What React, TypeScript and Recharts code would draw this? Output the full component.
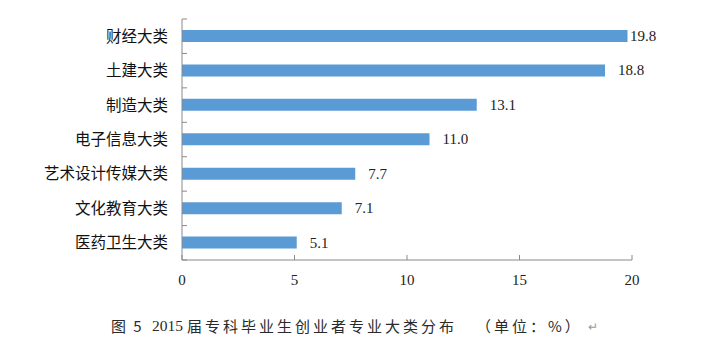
import React from "react";
import { BarChart, Bar, XAxis, YAxis, LabelList } from "recharts";

const categories = ["财经大类", "土建大类", "制造大类", "电子信息大类", "艺术设计传媒大类", "文化教育大类", "医药卫生大类"];
const values = [19.8, 18.8, 13.1, 11.0, 7.7, 7.1, 5.1];
const xTicks = [0, 5, 10, 15, 20];
const captionParts = ["图 5", "2015", "届专科毕业生创业者专业大类分布", "（单位：%）", "↵"];

const data = categories.map((c, i) => ({ name: c, value: values[i] }));

const AXIS_COLOR = "#8a8a8a";
const BAND = 241 / 7;

const XTick = (props: any) => {
  const { x, y, payload } = props;
  const axisY = y - 14;
  return (
    <g>
      <line x1={x} x2={x} y1={axisY - 5} y2={axisY} stroke={AXIS_COLOR} strokeWidth={1} />
      <text x={x} y={axisY + 25} textAnchor="middle" fontFamily="'Liberation Serif', serif" fontSize={15} fill="#222">
        {payload.value}
      </text>
    </g>
  );
};

const YTick = (props: any) => {
  const { x, y, payload, index } = props;
  const axisX = x + 14;
  return (
    <g>
      <line x1={axisX} x2={axisX + 5} y1={y - BAND / 2} y2={y - BAND / 2} stroke={AXIS_COLOR} strokeWidth={1} />
      {index === categories.length - 1 ? (
        <line x1={axisX} x2={axisX + 5} y1={y + BAND / 2} y2={y + BAND / 2} stroke={AXIS_COLOR} strokeWidth={1} />
      ) : null}
      <text x={x} y={y + 5.5} textAnchor="end" fontFamily="'Noto Sans CJK SC', sans-serif" fontSize={15.5} fill="#111">
        {payload.value}
      </text>
    </g>
  );
};

const ValueLabel = (props: any) => {
  const { x, y, width, height, value } = props;
  const lx = Math.min(x + width + 13, 630);
  return (
    <text x={lx} y={y + height / 2 + 5} textAnchor="start" fontFamily="'Liberation Serif', serif" fontSize={15} fill="#222">
      {Number(value).toFixed(1)}
    </text>
  );
};

const capStyle: React.CSSProperties = {
  position: "absolute",
  top: 316,
  fontSize: 15,
  color: "#2a2a2a",
  whiteSpace: "nowrap",
  lineHeight: "20px",
  fontFamily: "'Noto Sans CJK SC', sans-serif",
};

export default function App() {
  return (
    <div style={{ position: "absolute", left: 0, top: 0, width: 702, height: 362, background: "#fff", overflow: "hidden" }}>
      <BarChart
        width={702}
        height={362}
        data={data}
        layout="vertical"
        margin={{ top: 19, right: 70, bottom: 72, left: 82 }}
      >
        <XAxis
          type="number"
          domain={[0, 20]}
          ticks={xTicks}
          tickSize={0}
          tickMargin={14}
          height={30}
          axisLine={{ stroke: AXIS_COLOR }}
          tickLine={false}
          tick={<XTick />}
          interval={0}
        />
        <YAxis
          type="category"
          dataKey="name"
          width={100}
          tickSize={0}
          tickMargin={14}
          axisLine={{ stroke: AXIS_COLOR }}
          tickLine={false}
          tick={<YTick />}
          interval={0}
        />
        <Bar dataKey="value" fill="#5B9BD5" barSize={12} isAnimationActive={false}>
          <LabelList dataKey="value" content={<ValueLabel />} />
        </Bar>
      </BarChart>
      <span style={{ ...capStyle, left: 111, letterSpacing: 2 }}>{captionParts[0]}</span>
      <span style={{ ...capStyle, left: 152, fontFamily: "'Liberation Serif', serif", fontSize: 15.5 }}>{captionParts[1]}</span>
      <span style={{ ...capStyle, left: 187, letterSpacing: 3 }}>{captionParts[2]}</span>
      <span style={{ ...capStyle, left: 476, letterSpacing: 3 }}>{captionParts[3]}</span>
      <span style={{ ...capStyle, left: 588, color: "#999", fontSize: 12 }}>{captionParts[4]}</span>
    </div>
  );
}
